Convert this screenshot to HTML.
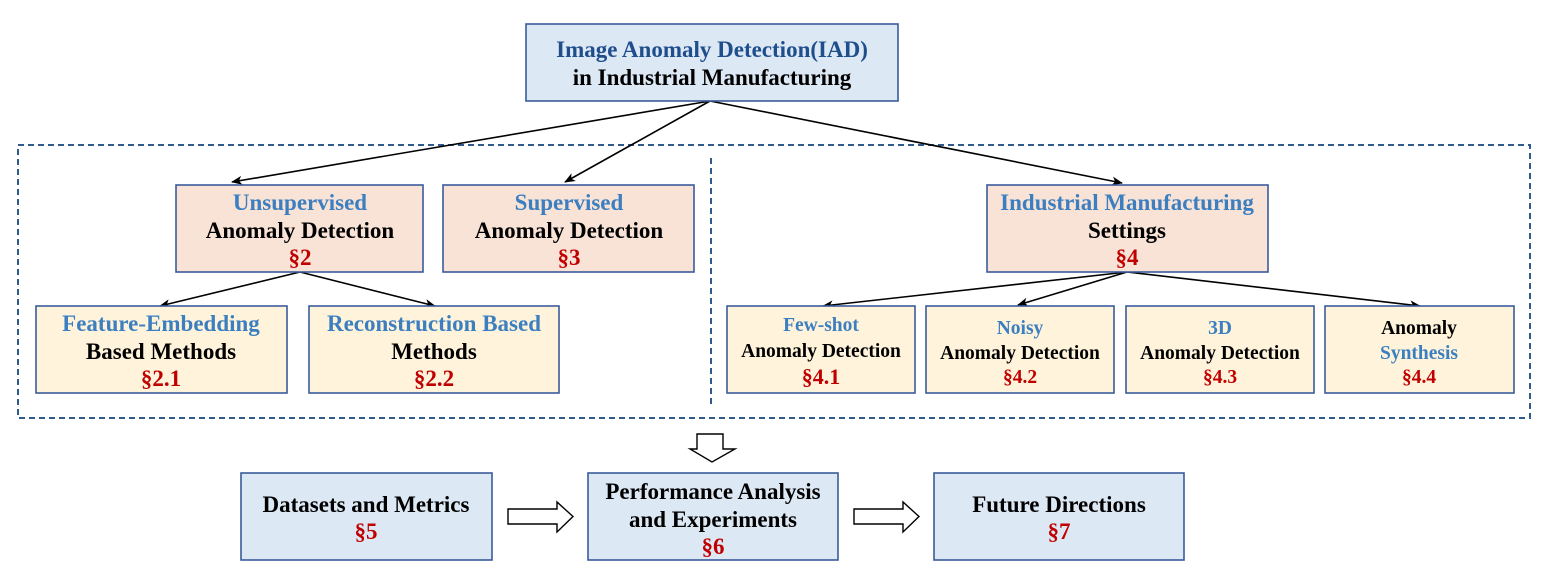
<!DOCTYPE html>
<html><head><meta charset="utf-8"><style>
html,body{margin:0;padding:0;background:#fff;}
svg{display:block;}
text{font-family:"Liberation Serif",serif;font-weight:bold;text-anchor:middle;}
.b{fill:#3c7fc0}.k{fill:#000}.r{fill:#c00000}.n{fill:#1f4e8c}
</style></head><body>
<svg width="1544" height="574" viewBox="0 0 1544 574" xmlns="http://www.w3.org/2000/svg">
<defs><marker id="a" markerWidth="11" markerHeight="9" refX="10" refY="4.5" orient="auto" markerUnits="userSpaceOnUse"><path d="M0,0 L11,4.5 L0,9 L3,4.5 Z" fill="#000"/></marker></defs>
<rect x="18" y="145" width="1512" height="273" fill="none" stroke="#2e5a8c" stroke-width="2" stroke-dasharray="6,4"/>
<line x1="711" y1="158" x2="711" y2="405" stroke="#2e5a8c" stroke-width="2" stroke-dasharray="6,4"/>
<g stroke="#000" stroke-width="1.6" marker-end="url(#a)">
<line x1="710" y1="101" x2="232" y2="182"/>
<line x1="710" y1="101" x2="565" y2="182"/>
<line x1="710" y1="101" x2="1122" y2="183"/>
<line x1="300" y1="272" x2="160" y2="306"/>
<line x1="300" y1="272" x2="435" y2="306"/>
<line x1="1127" y1="272" x2="823" y2="306"/>
<line x1="1127" y1="272" x2="1018" y2="305"/>
<line x1="1127" y1="272" x2="1420" y2="306"/>
</g>
<g stroke="#3a5b9b" stroke-width="1.6">
<rect x="526" y="24" width="372" height="77" fill="#dde8f5"/>
<rect x="176" y="185" width="247" height="87" fill="#f9e3d6"/>
<rect x="443" y="185" width="251" height="87" fill="#f9e3d6"/>
<rect x="987" y="185" width="281" height="87" fill="#f9e3d6"/>
<rect x="36" y="306" width="251" height="87" fill="#fff4db"/>
<rect x="309" y="306" width="250" height="87" fill="#fff4db"/>
<rect x="727" y="306" width="188" height="87" fill="#fff4db"/>
<rect x="926" y="306" width="188" height="87" fill="#fff4db"/>
<rect x="1126" y="306" width="188" height="87" fill="#fff4db"/>
<rect x="1325" y="306" width="189" height="87" fill="#fff4db"/>
<rect x="241" y="473" width="251" height="87" fill="#dde8f5"/>
<rect x="588" y="473" width="250" height="87" fill="#dde8f5"/>
<rect x="934" y="473" width="250" height="87" fill="#dde8f5"/>
</g>
<g fill="#fff" stroke="#000" stroke-width="1.4">
<path d="M697,434 H723 V449 H735 L712,462 L690,449 H697 Z"/>
<path d="M508,509 H557 V502 L573,516.5 L557,532 V524 H508 Z"/>
<path d="M854,509 H903 V502 L919,516.5 L903,532 V524 H854 Z"/>
</g>
<g font-size="23">
<text x="712" y="57" class="n">Image Anomaly Detection(IAD)</text>
<text x="712" y="85" class="k">in Industrial Manufacturing</text>
<text x="300" y="210" class="b">Unsupervised</text>
<text x="300" y="238" class="k">Anomaly Detection</text>
<text x="300" y="265" class="r">§2</text>
<text x="569" y="210" class="b">Supervised</text>
<text x="569" y="238" class="k">Anomaly Detection</text>
<text x="569" y="265" class="r">§3</text>
<text x="1127" y="210" class="b">Industrial Manufacturing</text>
<text x="1127" y="238" class="k">Settings</text>
<text x="1127" y="265" class="r">§4</text>
<text x="161" y="331" class="b">Feature-Embedding</text>
<text x="161" y="359" class="k">Based Methods</text>
<text x="161" y="386" class="r">§2.1</text>
<text x="434" y="331" class="b">Reconstruction Based</text>
<text x="434" y="359" class="k">Methods</text>
<text x="434" y="386" class="r">§2.2</text>
<text x="366" y="512" class="k">Datasets and Metrics</text>
<text x="366" y="539" class="r">§5</text>
<text x="713" y="499" class="k">Performance Analysis</text>
<text x="713" y="527" class="k">and Experiments</text>
<text x="713" y="554" class="r">§6</text>
<text x="1059" y="512" class="k">Future Directions</text>
<text x="1059" y="539" class="r">§7</text>
</g>
<g font-size="19.5">
<text x="821" y="331" class="b">Few-shot</text>
<text x="821" y="357" class="k">Anomaly Detection</text>
<text x="821" y="384" class="r" font-size="22">§4.1</text>
<text x="1020" y="334" class="b">Noisy</text>
<text x="1020" y="359" class="k">Anomaly Detection</text>
<text x="1020" y="383" class="r">§4.2</text>
<text x="1220" y="334" class="b">3D</text>
<text x="1220" y="359" class="k">Anomaly Detection</text>
<text x="1220" y="383" class="r">§4.3</text>
<text x="1419" y="334" class="k">Anomaly</text>
<text x="1419" y="359" class="b">Synthesis</text>
<text x="1419" y="383" class="r">§4.4</text>
</g>
</svg>
</body></html>
